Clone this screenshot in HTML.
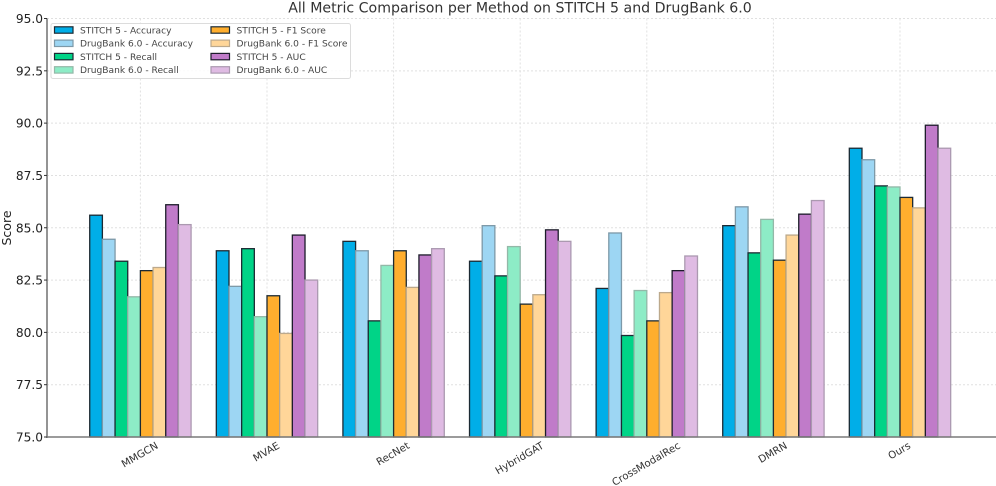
<!DOCTYPE html>
<html>
<head>
<meta charset="utf-8">
<style>
html,body{margin:0;padding:0;background:#fff;}
svg{display:block;font-family:"DejaVu Sans","Liberation Sans",sans-serif;filter:blur(0.3px);}
</style>
</head>
<body>
<svg id="chart" width="996" height="486" viewBox="0 0 996 486" xmlns="http://www.w3.org/2000/svg">
<rect width="996" height="486" fill="#ffffff"/>
<text x="520" y="12.5" text-anchor="middle" font-size="14.15" fill="#333">All Metric Comparison per Method on STITCH 5 and DrugBank 6.0</text>
<text transform="translate(11,228) rotate(-90)" text-anchor="middle" font-size="12.5" fill="#222">Score</text>
<g id="grid"></g>
<g id="bars"></g>
<g id="axes"></g>
<g id="legend"></g>
</svg>
<script>
const categories = ["MMGCN", "MVAE", "RecNet", "HybridGAT", "CrossModalRec", "DMRN", "Ours"];
const seriesNames = ["STITCH 5 - Accuracy", "DrugBank 6.0 - Accuracy", "STITCH 5 - Recall", "DrugBank 6.0 - Recall", "STITCH 5 - F1 Score", "DrugBank 6.0 - F1 Score", "STITCH 5 - AUC", "DrugBank 6.0 - AUC"];
const stitchAccuracy = [85.6, 83.9, 84.35, 83.4, 82.1, 85.1, 88.8];
const drugbankAccuracy = [84.45, 82.2, 83.9, 85.1, 84.75, 86.0, 88.25];
const stitchRecall = [83.4, 84.0, 80.55, 82.7, 79.85, 83.8, 87.0];
const drugbankRecall = [81.7, 80.75, 83.2, 84.1, 82.0, 85.4, 86.95];
const stitchF1 = [82.95, 81.75, 83.9, 81.35, 80.55, 83.45, 86.45];
const drugbankF1 = [83.1, 79.95, 82.15, 81.8, 81.9, 84.65, 85.95];
const stitchAuc = [86.1, 84.65, 83.7, 84.9, 82.95, 85.65, 89.9];
const drugbankAuc = [85.15, 82.5, 84.0, 84.35, 83.65, 86.3, 88.8];
const yTicks = [75.0, 77.5, 80.0, 82.5, 85.0, 87.5, 90.0, 92.5, 95.0];

const allSeries = [stitchAccuracy, drugbankAccuracy, stitchRecall, drugbankRecall, stitchF1, drugbankF1, stitchAuc, drugbankAuc];
const fills = ["#00aee8", "#9dd6f3", "#00d487", "#8decc6", "#ffae2e", "#ffd699", "#c07bc9", "#dfbbe3"];
const edges = ["#1c2a33", "#7d99a8", "#1c2a33", "#93b8a8", "#1c2a33", "#bca98c", "#1c1c2a", "#ab99b0"];
const NS = "http://www.w3.org/2000/svg";
const plotLeft = 47, plotRight = 996, plotTop = 18.5, plotBottom = 437;
const yMin = 75, yMax = 95;
const groupStep = 126.6, firstCenter = 140.4, barW = 12.67;
function yScale(v){ return plotBottom - (v - yMin) / (yMax - yMin) * (plotBottom - plotTop); }
function xCenter(i){ return firstCenter + i * groupStep; }
function xBar(i, s){ return xCenter(i) + (s - allSeries.length / 2) * barW; }
function make(tag, attrs, parent, text){
  const e = document.createElementNS(NS, tag);
  for (const k in attrs) e.setAttribute(k, attrs[k]);
  if (text !== undefined) e.textContent = text;
  parent.appendChild(e);
  return e;
}
const gridG = document.getElementById('grid');
const barsG = document.getElementById('bars');
const axesG = document.getElementById('axes');
const legendG = document.getElementById('legend');

yTicks.forEach(function(t){
  const g = make('line', {x1: plotLeft, x2: plotRight, y1: yScale(t), y2: yScale(t), stroke: '#e0e0e0', 'stroke-width': 1, 'stroke-dasharray': '2 2'}, gridG);
  
  
});
categories.forEach(function(c, i){
  const g = make('line', {x1: xCenter(i), x2: xCenter(i), y1: plotTop, y2: plotBottom, stroke: '#e0e0e0', 'stroke-width': 1, 'stroke-dasharray': '2 2'}, gridG);
  
  
});
allSeries.forEach(function(vals, s){
  vals.forEach(function(v, i){
    const r = make('rect', {x: xBar(i, s), y: yScale(v), width: barW, height: plotBottom - yScale(v), fill: fills[s], stroke: edges[s], 'stroke-width': 1.3}, barsG);
    
    
  });
});
const yAxis = make('line', {x1: plotLeft, x2: plotLeft, y1: plotTop, y2: plotBottom + 1, stroke: '#7a7a7a', 'stroke-width': 1.6}, axesG);


const xAxis = make('line', {x1: plotLeft, x2: plotRight, y1: plotBottom, y2: plotBottom, stroke: '#7a7a7a', 'stroke-width': 1.6}, axesG);


yTicks.forEach(function(t){
  const m = make('line', {x1: plotLeft - 3, x2: plotLeft, y1: yScale(t), y2: yScale(t), stroke: '#333', 'stroke-width': 1}, axesG);
  
  
  const l = make('text', {x: plotLeft - 4, y: yScale(t) + 4.5, 'text-anchor': 'end', 'font-size': 12.2, fill: '#222'}, axesG, t.toFixed(1));
  
  
});
categories.forEach(function(c, i){
  const l = make('text', {'text-anchor': 'middle', 'dominant-baseline': 'middle', 'font-size': 10.2, fill: '#333'}, axesG, c);
  
  
  const cy = 445 + l.getComputedTextLength() / 4;
  l.setAttribute('transform', 'translate(' + (xCenter(i) - 0.5) + ',' + cy + ') rotate(-30)');
});

const box = make('rect', {x: 51, y: 23.5, width: 299.5, height: 55, rx: 2, fill: '#ffffff', 'fill-opacity': 0.85, stroke: '#dcdcdc', 'stroke-width': 1}, legendG);


seriesNames.forEach(function(name, s){
  const col = Math.floor(s / 4), row = s % 4;
  const hx = col === 0 ? 54.5 : 211, tx = col === 0 ? 80 : 236.5;
  const cy = 30 + row * 13.3;
  const h = make('rect', {x: hx, y: cy - 3.2, width: 18.5, height: 6.4, fill: fills[s], stroke: edges[s], 'stroke-width': 1.2}, legendG);
  
  
  const l = make('text', {x: tx, y: cy + 3.3, 'font-size': 9.1, fill: '#444'}, legendG, name);
  
  
});
</script>
</body>
</html>
